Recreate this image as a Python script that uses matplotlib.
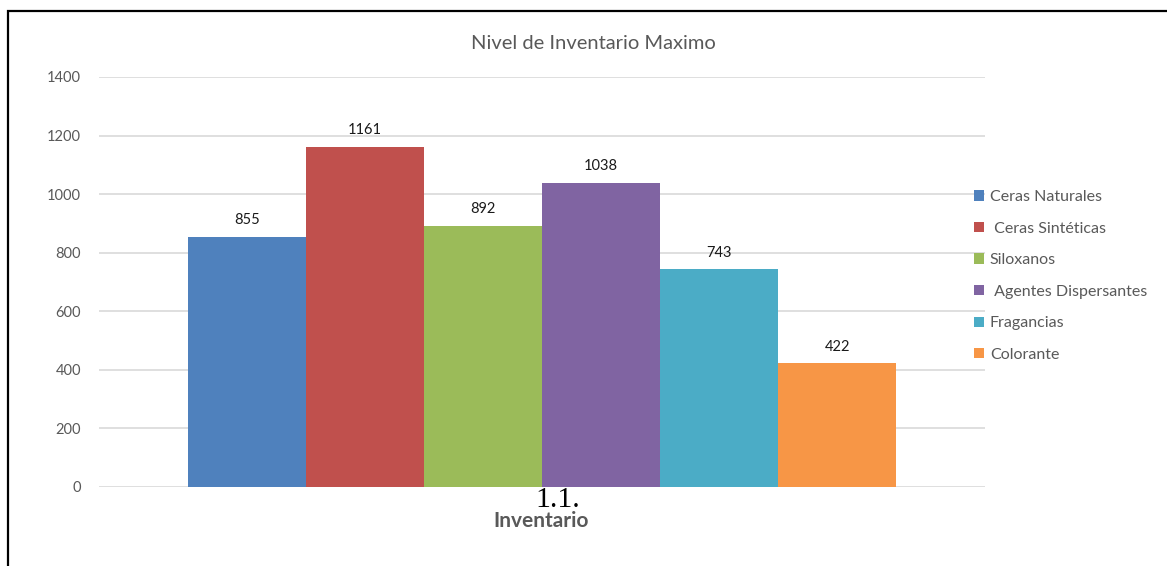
import matplotlib
matplotlib.use("Agg")
from matplotlib import pyplot as plt
from matplotlib.patches import Rectangle
import numpy as np

categorias = ["Ceras Naturales", " Ceras Sintéticas", "Siloxanos",
              " Agentes Dispersantes", "Fragancias", "Colorante"]
valores = [855, 1161, 892, 1038, 743, 422]
colores = ["#4F81BD", "#C0504D", "#9BBB59", "#8064A2", "#4BACC6", "#F79646"]
yticks = [0, 200, 400, 600, 800, 1000, 1200, 1400]

plt.rcParams['font.family'] = ['Lato', 'DejaVu Sans']
gris = "#595959"

W, H = 1167, 566
fig = plt.figure(figsize=(W / 100, H / 100), dpi=100)
ax = fig.add_axes([99 / W, 1 - 487 / H, (985 - 99) / W, (487 - 77) / H])

x = np.arange(len(valores))
for i in range(len(valores)):
    b = ax.bar(x[i], valores[i], width=1.0, color=colores[i], label=categorias[i], zorder=3)
    ax.bar_label(b, padding=7, fontsize=10.5, color="#1a1a1a")

ax.set_xlim(-1.25, 6.25)
ax.set_ylim(0, 1400)
ax.set_yticks(yticks)
ax.set_xticks([])
ax.tick_params(axis='y', length=0, pad=13, labelsize=10.5, labelcolor=gris)
ax.yaxis.grid(True, color="#d9d9d9", linewidth=1.2, zorder=0)
for s in ax.spines.values():
    s.set_visible(False)

fig.text(593 / W, 1 - 49 / H, "Nivel de Inventario Maximo", ha='center', va='baseline',
         fontsize=14.5, color=gris)
fig.text(535 / W, 1 - 507 / H, "1.1.", ha='left', va='baseline', fontsize=21.5,
         family=['Liberation Serif', 'DejaVu Serif'], color="black")
fig.text(541 / W, 1 - 527 / H, "Inventario", ha='center', va='baseline', fontsize=15,
         fontweight='bold', color=gris)

fig.legend(loc='center left', bbox_to_anchor=(974 / W, 1 - 276 / H), frameon=False,
           fontsize=11.5, labelcolor=gris, handlelength=0.62, handleheight=0.62,
           handletextpad=0.38, labelspacing=1.1, borderpad=0, borderaxespad=0)

# marco del grafico
fig.add_artist(Rectangle((8 / W, -0.1), 1.2, 1 - 11 / H + 0.1, transform=fig.transFigure,
                         fill=False, edgecolor="black", linewidth=1.6))

fig.savefig("out.png", dpi=100)
